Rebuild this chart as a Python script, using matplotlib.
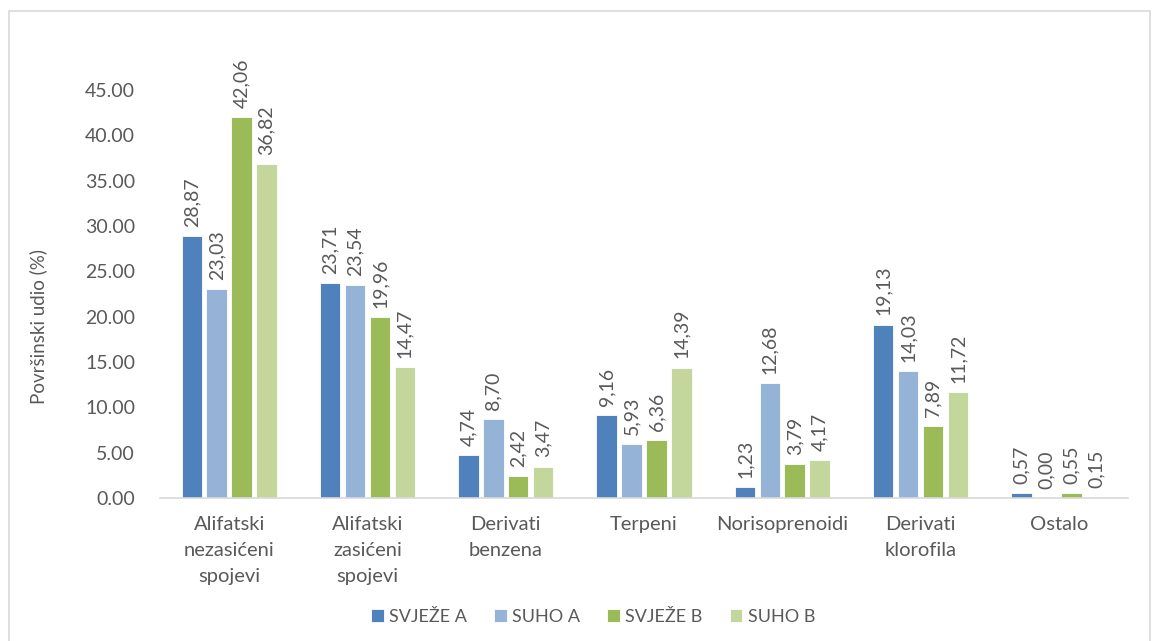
import numpy as np
import matplotlib.pyplot as plt
from matplotlib.patches import Rectangle

# =========================
# Data
# =========================
categories = ["Alifatski\nnezasićeni\nspojevi", "Alifatski\nzasićeni\nspojevi",
              "Derivati\nbenzena", "Terpeni", "Norisoprenoidi",
              "Derivati\nklorofila", "Ostalo"]
series_names = ["SVJEŽE A", "SUHO A", "SVJEŽE B", "SUHO B"]
svjeze_a = [28.87, 23.71, 4.74, 9.16, 1.23, 19.13, 0.57]
suho_a = [23.03, 23.54, 8.70, 5.93, 12.68, 14.03, 0.00]
svjeze_b = [42.06, 19.96, 2.42, 6.36, 3.79, 7.89, 0.55]
suho_b = [36.82, 14.47, 3.47, 14.39, 4.17, 11.72, 0.15]
yticks = [0, 5, 10, 15, 20, 25, 30, 35, 40, 45]

colors = ["#4F81BD", "#95B3D7", "#9BBB59", "#C3D69B"]
txt = "#595959"
plt.rcParams["font.family"] = ["Lato", "DejaVu Sans"]

# =========================
# Plot
# =========================
fig = plt.figure(figsize=(11.57, 6.41), dpi=100)
fig.patches.append(Rectangle((9 / 1157, -0.05), 1141 / 1157, 1.05 - 11 / 641,
                             transform=fig.transFigure, fill=False,
                             edgecolor="#D9D9D9", linewidth=1.2))
ax = fig.add_axes([160 / 1157, 1 - 498 / 641, 968 / 1157, 408 / 641])

x = np.arange(len(categories))
w = 0.148
step = 0.18
for i, (vals, name) in enumerate(zip([svjeze_a, suho_a, svjeze_b, suho_b], series_names)):
    pos = x + (i - 1.5) * step
    ax.bar(pos, vals, width=w, color=colors[i], label=name,
           edgecolor="white", linewidth=0.6)
    for p, v in zip(pos, vals):
        ax.text(p, v + 1.0, f"{v:.2f}".replace(".", ","), rotation=90,
                ha="center", va="bottom", fontsize=14, color=txt)

ax.set_xlim(-0.5, len(categories) - 0.5)
ax.set_ylim(0, 45)
ax.set_yticks(yticks)
ax.set_yticklabels([f"{t:.2f}" for t in yticks])
ax.set_xticks(x)
ax.set_xticklabels(categories, fontsize=14.5, color=txt, linespacing=1.65)
ax.tick_params(axis="y", labelsize=14, labelcolor=txt, length=0, pad=18)
ax.tick_params(axis="x", length=0, pad=13)
for s in ["top", "right", "left"]:
    ax.spines[s].set_visible(False)
ax.spines["bottom"].set_color("#D9D9D9")
ax.spines["bottom"].set_linewidth(1.2)

fig.text(38 / 1157, 1 - 326 / 641, "Površinski udio (%)", rotation=90,
         ha="center", va="center", fontsize=13.5, color=txt)

leg = fig.legend(loc="center", bbox_to_anchor=(593 / 1157, 1 - 617 / 641), ncol=4,
                 frameon=False, fontsize=13, handlelength=0.7, handleheight=0.7,
                 handletextpad=0.3, columnspacing=1.5)
for t in leg.get_texts():
    t.set_color(txt)

fig.savefig("out.png", dpi=100)
